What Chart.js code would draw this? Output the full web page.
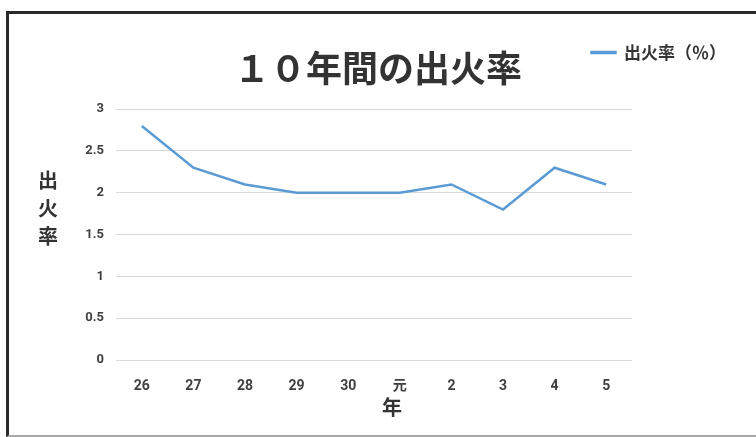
<!DOCTYPE html>
<html>
<head>
<meta charset="utf-8">
<script src="https://cdn.jsdelivr.net/npm/chart.js@4.4.1/dist/chart.umd.min.js"></script>
<style>
  html, body { margin: 0; padding: 0; background: #fff; }
  #wrap { position: relative; width: 756px; height: 437px; overflow: hidden; }
  #c { position: absolute; left: 0; top: 0; }
  #frame { position: absolute; left: 6px; top: 11px; width: 800px; height: 421px;
           border-left: 3px solid #2a2a2a; border-top: 3px solid #2a2a2a; border-bottom: 2px solid #a8a8a8;
           pointer-events: none; }
</style>
</head>
<body>
<div id="wrap">
  <canvas id="c" width="756" height="437"></canvas>
  <div id="frame"></div>
</div>
<script>
const categories = ['26', '27', '28', '29', '30', '元', '2', '3', '4', '5'];
const fireRate = [2.8, 2.3, 2.1, 2.0, 2.0, 2.0, 2.1, 1.8, 2.3, 2.1];
const seriesName = '出火率（％）';
const chartTitle = '１０年間の出火率';
const yTitleChars = ['出', '火', '率'];
const xTitle = '年';

const FONT = "Roboto, 'Noto Sans CJK JP', sans-serif";
const CJK = "'Noto Sans CJK JP', sans-serif";
const BLUE = '#5b9bd5';

// Let the legend overlap the title band (legend sits at top-right beside the title).
const legendOverlay = {
  id: 'legendOverlay',
  beforeLayout(chart) {
    const lg = chart.legend;
    if (lg && !lg._zeroPatched) {
      const origFit = lg.fit;
      lg.fit = function () { origFit.call(this); this._realHeight = this.height; this.height = 0; };
      lg._zeroPatched = true;
    }
  },
  afterLayout(chart) {
    const lg = chart.legend;
    if (lg && lg._realHeight) {
      lg.height = lg._realHeight;
      lg.bottom = lg.top + lg._realHeight;
    }
  }
};

const axisTitles = {
  id: 'axisTitles',
  afterDraw(chart) {
    const ctx = chart.ctx;
    ctx.save();
    ctx.fillStyle = '#333';
    ctx.font = 'bold 20px ' + CJK;
    ctx.textAlign = 'center';
    ctx.textBaseline = 'middle';
    yTitleChars.forEach((ch, i) => ctx.fillText(ch, 48, 180 + i * 28));
    ctx.fillText(xTitle, 392, 407);
    ctx.restore();
  }
};

new Chart(document.getElementById('c'), {
  type: 'line',
  data: {
    labels: categories,
    datasets: [{
      label: seriesName,
      data: fireRate,
      borderColor: BLUE,
      backgroundColor: BLUE,
      borderWidth: 2.5,
      pointRadius: 0,
      tension: 0,
      fill: false
    }]
  },
  options: {
    responsive: false,
    animation: false,
    devicePixelRatio: 1,
    layout: { padding: { left: 0, right: 0, top: 14, bottom: 0 } },
    plugins: {
      title: {
        display: true,
        text: chartTitle,
        color: '#333',
        font: { family: CJK, size: 36, weight: 'bold', lineHeight: 1.2 },
        padding: { top: 33, bottom: 19 }
      },
      legend: {
        display: true,
        position: 'top',
        align: 'end',
        weight: 3000,
        labels: {
          color: '#333',
          font: { family: CJK, size: 17, weight: 'bold' },
          boxWidth: 24,
          boxHeight: 1,
          padding: 30
        }
      },
      tooltip: { enabled: false }
    },
    scales: {
      x: {
        type: 'category',
        offset: true,
        grid: { display: false, drawTicks: false },
        border: { display: false },
        ticks: { color: '#404040', font: { family: FONT, size: 14, weight: 'bold' }, padding: 18, maxRotation: 0 },
        afterFit(s) { s.height = 77; }
      },
      y: {
        min: 0,
        max: 3,
        position: 'left',
        grid: { color: '#d9d9d9', lineWidth: 1, drawTicks: false },
        border: { display: false },
        ticks: {
          stepSize: 0.5, color: '#404040', font: { family: FONT, size: 13, weight: 'bold' }, padding: 12,
          callback: (v) => String(Math.round(v * 10) / 10)
        },
        afterFit(s) { s.width = 116; }
      },
      yRight: {
        position: 'right',
        display: true,
        grid: { display: false, drawTicks: false },
        border: { display: false },
        ticks: { display: false },
        afterFit(s) { s.width = 124; }
      }
    }
  },
  plugins: [legendOverlay, axisTitles]
});
</script>
</body>
</html>
